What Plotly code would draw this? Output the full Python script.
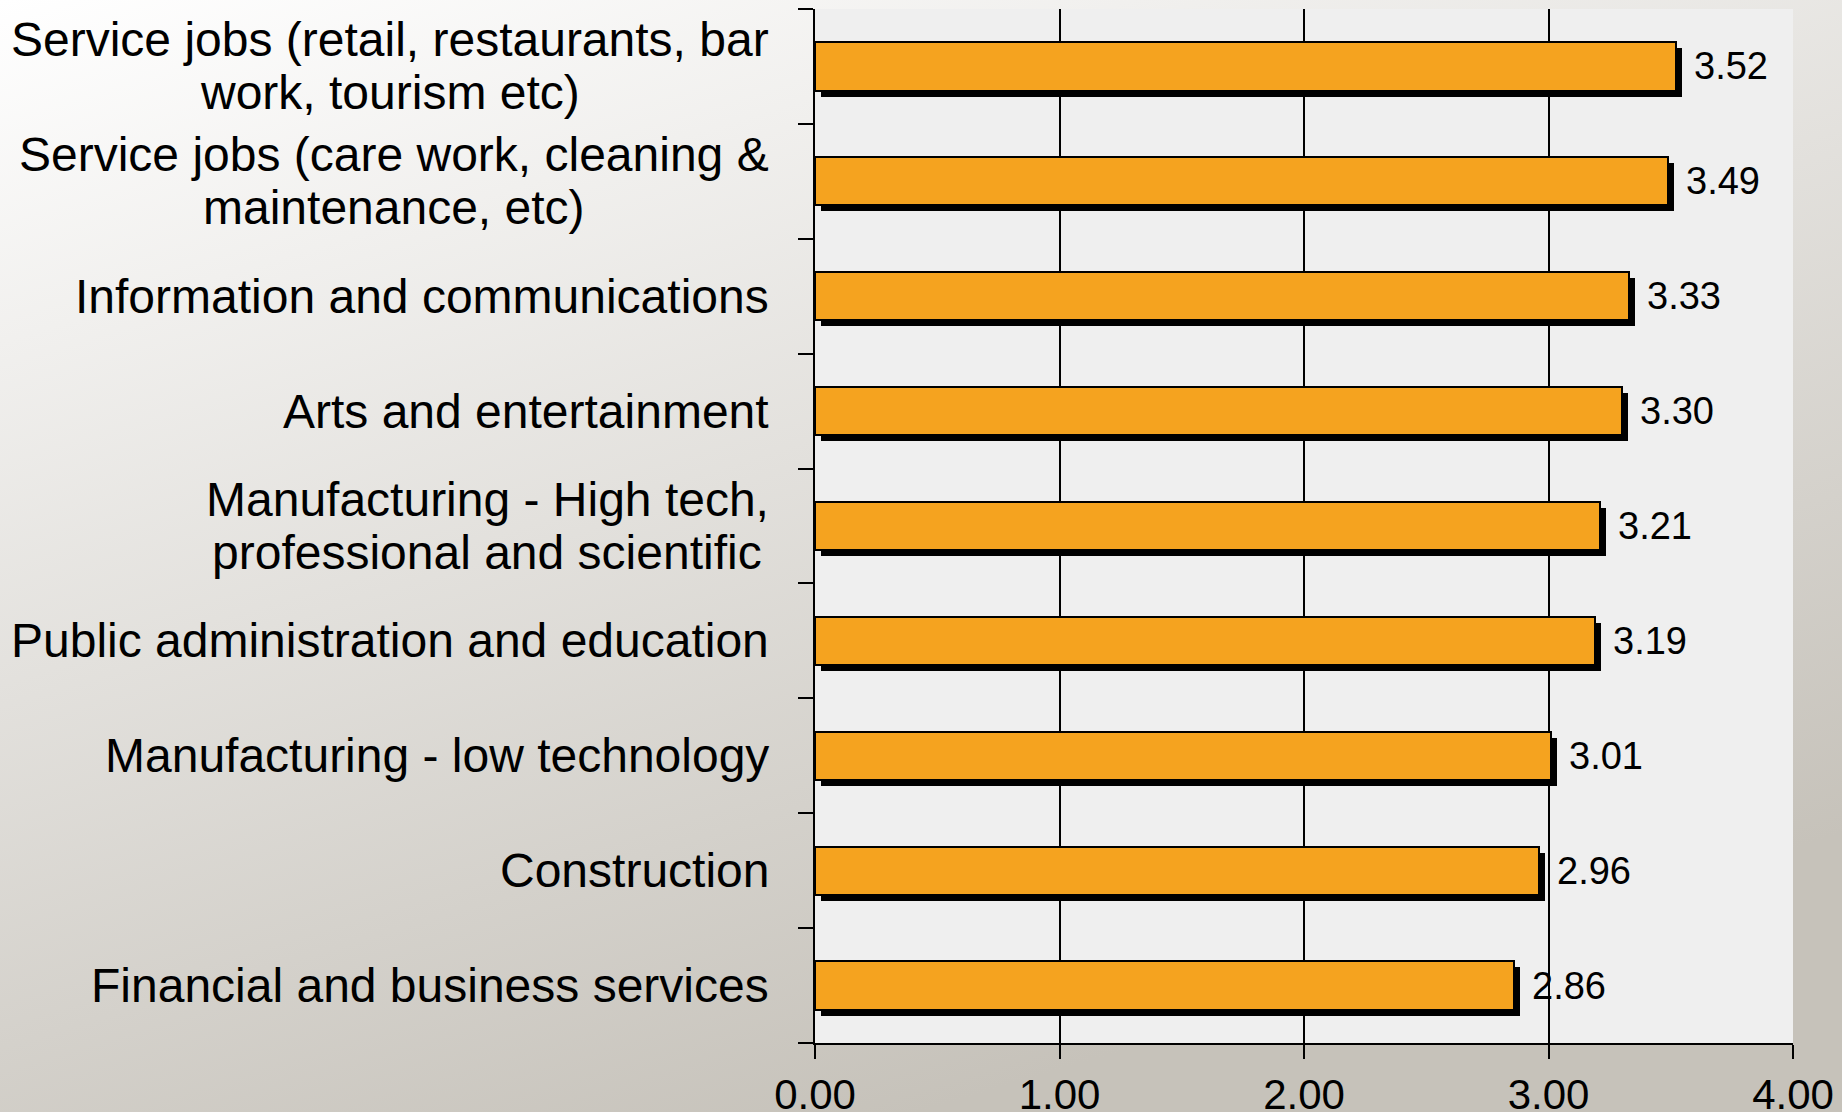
import base64
import plotly.graph_objects as go

# ---------------- data ----------------
categories = [
    "Service jobs (retail, restaurants, bar<br>work, tourism etc)",
    "Service jobs (care work, cleaning &<br>maintenance, etc)",
    "Information and communications",
    "Arts and entertainment",
    "Manufacturing - High tech,<br>professional and scientific",
    "Public administration and education",
    "Manufacturing - low technology",
    "Construction",
    "Financial and business services",
]
values = [3.52, 3.49, 3.33, 3.30, 3.21, 3.19, 3.01, 2.96, 2.86]
x_ticks = [0, 1, 2, 3, 4]
x_tick_labels = ["0.00", "1.00", "2.00", "3.00", "4.00"]

# ---------------- layout constants ----------------
W, H = 1842, 1112
ML, MR, MT, MB = 815, 49, 9, 69
PW, PH = W - ML - MR, H - MT - MB
XMAX = 4.0
n = len(categories)
px_per_x = PW / XMAX
px_per_y = PH / n
BAR_W = 0.42
SHADOW_PX = 6
FONT = "Liberation Sans, Arial, sans-serif"
CAT_SIZE = 48
VAL_SIZE = 38
ORANGE = "#F5A31F"
LABEL_GAP = 45
LINE_HALF = 26.5

# Arial / Liberation Sans advance widths (per 1000 em) for centring wrapped labels
_AW = {" ": 278, "&": 667, "(": 333, ")": 333, ",": 278, "-": 333, ".": 278}
_AW.update(dict(zip("ABCDEFGHIJKLMNOPQRSTUVWXYZ",
                    [667, 667, 722, 722, 667, 611, 778, 722, 278, 500, 667, 556, 833,
                     722, 778, 667, 778, 722, 667, 611, 722, 667, 944, 667, 667, 611])))
_AW.update(dict(zip("abcdefghijklmnopqrstuvwxyz",
                    [556, 556, 500, 556, 556, 278, 556, 556, 222, 222, 500, 222, 833,
                     556, 556, 556, 556, 333, 500, 278, 556, 500, 722, 500, 500, 500])))


def text_w(s, size):
    return sum(_AW.get(ch, 556) for ch in s) * size / 1000.0


pos = list(range(n))
sdx = SHADOW_PX / px_per_x
sdy = SHADOW_PX / px_per_y

fig = go.Figure()
# drop shadow
fig.add_trace(go.Bar(
    y=pos, x=values, base=[sdx] * n, orientation="h",
    width=BAR_W, offset=-BAR_W / 2 + sdy,
    marker=dict(color="black", line=dict(width=0)),
    hoverinfo="skip", showlegend=False,
))
# main bars
fig.add_trace(go.Bar(
    y=pos, x=values, orientation="h",
    width=BAR_W, offset=-BAR_W / 2,
    marker=dict(color=ORANGE, line=dict(color="black", width=2)),
    showlegend=False,
))

annotations = []
for i, (c, v) in enumerate(zip(categories, values)):
    lines = c.split("<br>")
    widths = [text_w(s, CAT_SIZE) for s in lines]
    wmax = max(widths)
    k = len(lines)
    for j, (s, w) in enumerate(zip(lines, widths)):
        annotations.append(dict(
            xref="paper", yref="y", x=0, y=i, xanchor="right", yanchor="middle",
            xshift=-LABEL_GAP - (wmax - w) / 2,
            yshift=LINE_HALF * (k - 1) - 2 * LINE_HALF * j,
            text=s, showarrow=False, borderpad=0,
            font=dict(family=FONT, size=CAT_SIZE, color="black"),
        ))
    annotations.append(dict(
        xref="x", yref="y", x=v, y=i, xanchor="left", yanchor="middle",
        xshift=17, text=f"{v:.2f}", showarrow=False, borderpad=0,
        font=dict(family=FONT, size=VAL_SIZE, color="black"),
    ))

svg = f'''<svg xmlns="http://www.w3.org/2000/svg" width="{W}" height="{H}" viewBox="0 0 {W} {H}" preserveAspectRatio="none">
<defs><linearGradient id="g" x1="0" y1="0" x2="0.5" y2="1">
<stop offset="0" stop-color="#FFFFFF"/><stop offset="1" stop-color="#C6C2BA"/>
</linearGradient></defs>
<rect width="{W}" height="{H}" fill="url(#g)"/></svg>'''
bg_src = "data:image/svg+xml;base64," + base64.b64encode(svg.encode()).decode()

fig.update_layout(
    width=W, height=H,
    margin=dict(l=ML, r=MR, t=MT, b=MB, pad=0, autoexpand=False),
    paper_bgcolor="#D8D5CF",
    plot_bgcolor="rgba(0,0,0,0)",
    barmode="overlay",
    bargap=0,
    showlegend=False,
    annotations=annotations,
    images=[dict(
        source=bg_src, xref="paper", yref="paper",
        x=-ML / PW, y=1 + MT / PH, sizex=W / PW, sizey=H / PH,
        xanchor="left", yanchor="top", sizing="stretch", layer="below",
    )],
    shapes=[dict(
        type="rect", xref="x domain", yref="y domain", x0=0, x1=1, y0=0, y1=1,
        fillcolor="#EFEFEF", line=dict(width=0), layer="below",
    )],
    xaxis=dict(
        range=[0, XMAX], tickvals=x_ticks, ticktext=x_tick_labels,
        showgrid=True, gridcolor="black", gridwidth=1.5,
        zeroline=False, showline=True, linecolor="black", linewidth=2,
        ticks="outside", ticklen=14, tickwidth=1.5, tickcolor="black",
        ticklabelstandoff=0, automargin=False,
        tickfont=dict(family=FONT, size=42, color="black"),
        fixedrange=True,
    ),
    yaxis=dict(
        range=[n - 0.5, -0.5], tickvals=[i - 0.5 for i in range(n + 1)],
        showticklabels=False, showgrid=False, zeroline=False,
        showline=True, linecolor="black", linewidth=2,
        ticks="outside", ticklen=15, tickwidth=1.5, tickcolor="black",
        automargin=False, fixedrange=True,
    ),
)

fig.write_html(
    "out.html",
    config={"displayModeBar": False},
    post_script="document.body.style.margin='0';document.body.style.overflow='hidden';",
)
